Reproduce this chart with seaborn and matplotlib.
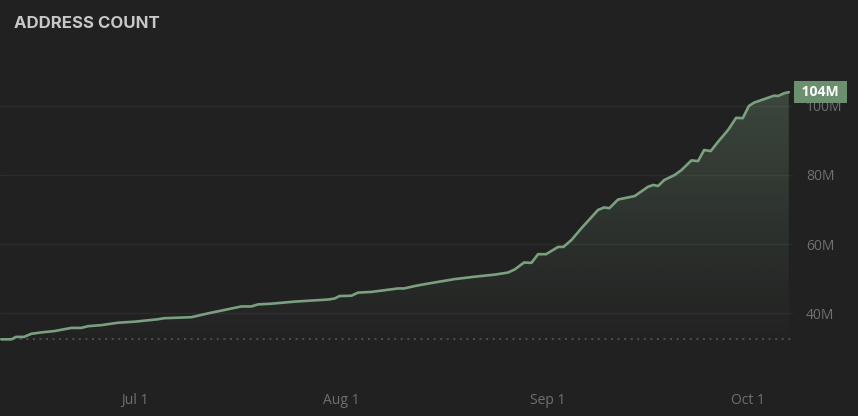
import numpy as np
import pandas as pd
import matplotlib
matplotlib.use("Agg")
import matplotlib.pyplot as plt
import matplotlib.dates as mdates
import matplotlib.transforms as mtransforms
from matplotlib.patches import Polygon
from matplotlib.colors import to_rgb
import seaborn as sns

# ---------------- data ----------------
start_date = "2023-06-11"
day_offsets = [0, 1.5, 2.2, 3.4, 4.5, 6, 8, 10.5, 12, 13, 15, 17.5, 20, 23.5, 24.4,
               28.5, 31, 34, 36, 37.5, 38.5, 40.5, 44, 49, 50, 50.7, 52.5, 53.5,
               55.5, 59.5, 60.4, 62, 63.4, 65.5, 68, 71, 74, 76, 77, 78.4, 79.5,
               80.5, 81.7, 83.5, 84.3, 85.5, 87, 89.5, 90.4, 91.2, 92.5, 94, 95,
               97, 97.8, 98.5, 99.4, 101, 102, 103.5, 104.5, 105.4, 106.4, 107.5,
               109, 110.2, 111.2, 112.1, 112.9, 115, 115.9, 116.5, 117.4, 118.1]
address_count_m = [32.5, 32.5, 33.2, 33.2, 34.1, 34.5, 34.9, 35.8, 35.8, 36.3, 36.6,
                   37.3, 37.6, 38.3, 38.6, 38.9, 40.0, 41.2, 42.0, 42.0, 42.6, 42.8,
                   43.4, 44.0, 44.3, 45.0, 45.1, 46.0, 46.2, 47.2, 47.2, 47.9, 48.4,
                   49.1, 49.9, 50.6, 51.2, 51.8, 52.7, 54.7, 54.6, 57.1, 57.1, 59.2,
                   59.2, 61.2, 64.6, 69.9, 70.6, 70.4, 72.9, 73.5, 73.9, 76.6, 77.1,
                   76.8, 78.5, 80.0, 81.4, 84.2, 84.0, 87.2, 86.9, 89.6, 93.0, 96.5,
                   96.4, 99.9, 100.9, 102.3, 102.9, 102.8, 103.6, 103.9]
x_tick_dates = ["2023-07-01", "2023-08-01", "2023-09-01", "2023-10-01"]
x_tick_labels = ["Jul 1", "Aug 1", "Sep 1", "Oct 1"]
y_ticks = [40, 60, 80, 100]
y_tick_labels = ["40M", "60M", "80M", "100M"]
title = "ADDRESS COUNT"
last_label = "104M"

# ---------------- style ----------------
BG = "#212121"
LINE = "#7aa07f"
BOX = "#6a9070"
GRID = "#2c2c2c"
TICK = "#707070"
TITLE = "#c8c8c8"

dates = pd.Timestamp(start_date) + pd.to_timedelta(day_offsets, unit="D")
df = pd.DataFrame({"date": dates, "count": address_count_m})

sns.set_theme(style="dark")
plt.rcParams["font.family"] = ["Open Sans", "DejaVu Sans"]

fig = plt.figure(figsize=(8.58, 4.16), dpi=100, facecolor=BG)
ax = fig.add_axes([0, 0.0986, 0.924, 0.78125])
ax.set_facecolor(BG)

sns.lineplot(data=df, x="date", y="count", ax=ax, color=LINE, linewidth=1.9, zorder=4)

ylim = (22.2, 116.1)
x0 = pd.Timestamp(start_date) - pd.Timedelta(days=0.2)
x1 = pd.Timestamp(start_date) + pd.Timedelta(days=118.7)

# gradient fill under the line
xnum = mdates.date2num(df["date"])
yv = df["count"].to_numpy()
poly = np.column_stack([np.r_[xnum, xnum[::-1]],
                        np.r_[yv, np.full_like(yv, ylim[0])]])
patch = Polygon(poly, closed=True, facecolor="none", edgecolor="none")
ax.add_patch(patch)
n = 256
vals = np.linspace(ylim[0], yv.max(), n)
rgba = np.zeros((n, 1, 4))
rgba[..., :3] = to_rgb(LINE)
rgba[:, 0, 3] = 0.30 * np.clip((vals - 28) / (yv.max() - 28), 0, 1) ** 1.1
im = ax.imshow(rgba, extent=[xnum[0], xnum[-1], ylim[0], yv.max()],
               origin="lower", aspect="auto", zorder=2, interpolation="bilinear")
im.set_clip_path(patch)

# dotted baseline at starting value
ax.axhline(yv[0], color="#5a5a5a", linestyle=(0, (1.3, 3)), lw=1.1, zorder=3)

ax.set_xlim(x0, x1)
ax.set_ylim(*ylim)
ax.set_xlabel("")
ax.set_ylabel("")

ax.set_xticks(pd.to_datetime(x_tick_dates))
ax.set_xticklabels(x_tick_labels)
ax.set_yticks(y_ticks)
ax.set_yticklabels(y_tick_labels)
ax.yaxis.tick_right()
ax.tick_params(axis="y", length=0, pad=9.5, labelcolor=TICK, labelsize=10)
ax.tick_params(axis="x", length=0, pad=13, labelcolor=TICK, labelsize=10)

ax.grid(False)
ax.yaxis.grid(True, color=GRID, lw=1)
for s in ax.spines.values():
    s.set_visible(False)

# title
fig.text(14 / 858, 1 - 24 / 416, title, ha="left", va="center", fontsize=12.1,
         fontweight="bold", color=TITLE, family=["Inter", "DejaVu Sans"])

# last-value label
trans = mtransforms.offset_copy(ax.get_yaxis_transform(), fig=fig, x=5.5, y=0, units="dots")
ax.text(1.0, yv[-1], " " + last_label + " ", transform=trans, ha="left", va="center",
        fontsize=10, fontweight="bold", color="white", zorder=10, clip_on=False,
        bbox=dict(boxstyle="square,pad=0.3", facecolor=BOX, edgecolor="none"))

fig.savefig("out.png", dpi=100, facecolor=BG)
